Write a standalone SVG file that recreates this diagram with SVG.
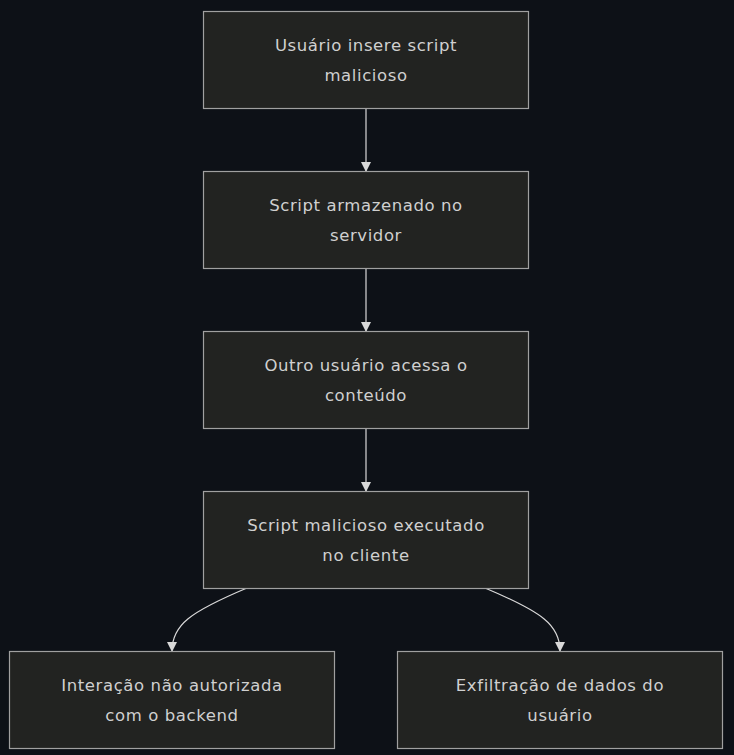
<svg xmlns="http://www.w3.org/2000/svg" width="734" height="755" viewBox="0 0 734 755">
<defs>
<marker id="arr" viewBox="0 0 10 10" refX="9" refY="5" markerWidth="10" markerHeight="10" markerUnits="userSpaceOnUse" orient="auto">
<path d="M0,0 L10,5 L0,10 z" fill="#d9d9d9"/>
</marker>
<style>
.node rect{fill:#222321;stroke:#a0a0a0;stroke-width:1.2}
.node text{fill:#d0d0d0;font-family:"DejaVu Sans",sans-serif;font-size:16.5px;letter-spacing:0.6px;text-anchor:middle}
.edges path{fill:none;stroke:#d9d9d9;stroke-width:1.2;marker-end:url(#arr)}
</style>
</defs>
<rect width="734" height="755" fill="#0d1117"/>
<g class="edges">
<path d="M366,108 L366,171"/>
<path d="M366,268 L366,331"/>
<path d="M366,428 L366,491"/>
<path d="M247,588 C190,612 172,625 172,651"/>
<path d="M485,588 C542,612 560,625 560,651"/>
</g>
<g class="node" id="n1"><rect x="203.5" y="11.5" width="325" height="97"/><text x="366" y="51">Usuário insere script</text><text x="366" y="81">malicioso</text></g>
<g class="node" id="n2"><rect x="203.5" y="171.5" width="325" height="97"/><text x="366" y="211">Script armazenado no</text><text x="366" y="241">servidor</text></g>
<g class="node" id="n3"><rect x="203.5" y="331.5" width="325" height="97"/><text x="366" y="371">Outro usuário acessa o</text><text x="366" y="401">conteúdo</text></g>
<g class="node" id="n4"><rect x="203.5" y="491.5" width="325" height="97"/><text x="366" y="531">Script malicioso executado</text><text x="366" y="561">no cliente</text></g>
<g class="node" id="n5"><rect x="9.5" y="651.5" width="325" height="97"/><text x="172" y="691">Interação não autorizada</text><text x="172" y="721">com o backend</text></g>
<g class="node" id="n6"><rect x="397.5" y="651.5" width="325" height="97"/><text x="560" y="691">Exfiltração de dados do</text><text x="560" y="721">usuário</text></g>
</svg>
